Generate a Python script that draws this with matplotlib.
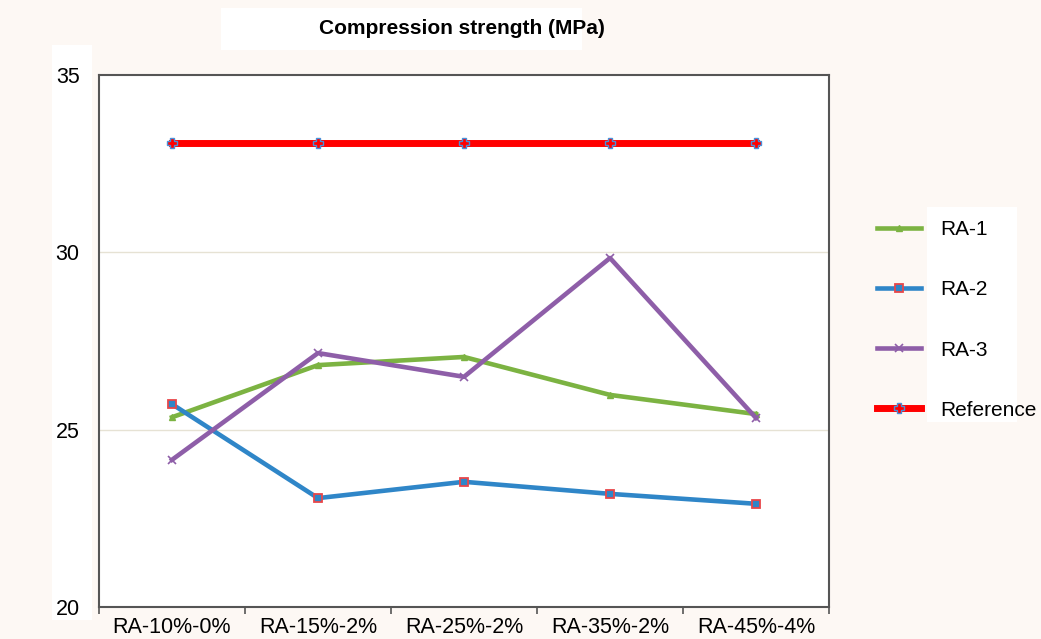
import matplotlib
matplotlib.use("Agg")
import matplotlib.pyplot as plt
from matplotlib.patches import Rectangle

categories = ["RA-10%-0%", "RA-15%-2%", "RA-25%-2%", "RA-35%-2%", "RA-45%-4%"]
ra1 = [25.35, 26.82, 27.05, 25.98, 25.44]
ra2 = [25.72, 23.07, 23.53, 23.19, 22.91]
ra3 = [24.15, 27.16, 26.49, 29.84, 25.33]
reference = [33.08, 33.08, 33.08, 33.08, 33.08]
y_ticks = [20, 25, 30, 35]

plt.rcParams["font.family"] = ["Liberation Sans", "DejaVu Sans"]

fig = plt.figure(figsize=(10.41, 6.39), dpi=100)
fig.patch.set_facecolor("#fdf8f4")
W, H = 1041, 639
ax = fig.add_axes([99 / W, 1 - 607 / H, 730 / W, 532 / H])
ax.set_facecolor("white")


def white_panel(x0, y0, x1, y1):
    fig.patches.append(Rectangle((x0 / W, 1 - y1 / H), (x1 - x0) / W, (y1 - y0) / H,
                                 transform=fig.transFigure, facecolor="white",
                                 edgecolor="none", zorder=-5))


# white panels behind the title, the y tick labels and the legend texts
white_panel(221, 8, 582, 50)
white_panel(52, 45, 92, 620)
white_panel(927, 207, 1017, 422)

x = list(range(len(categories)))
ax.plot(x, ra1, color="#7cb342", lw=3.3, marker="^", ms=5,
        markerfacecolor="#7cb342", markeredgecolor="#7cb342", label="RA-1", zorder=3)
ax.plot(x, ra2, color="#2f86c8", lw=3.3, marker="s", ms=6,
        markerfacecolor="#2f86c8", markeredgecolor="#e8474a", markeredgewidth=1.3,
        label="RA-2", zorder=3)
ax.plot(x, ra3, color="#8e5ea8", lw=3.3, marker="x", ms=6,
        markeredgecolor="#8e5ea8", markeredgewidth=1.2, label="RA-3", zorder=3)
ax.plot(x, reference, color="#ff0000", lw=5.0, marker="P", ms=7,
        markerfacecolor="#ff0000", markeredgecolor="#4a90d9", markeredgewidth=1.0,
        label="Reference", zorder=3)

ax.set_xlim(-0.5, len(categories) - 0.5)
ax.set_ylim(20, 35)
ax.set_yticks(y_ticks)
ax.set_yticklabels([str(v) for v in y_ticks], fontsize=15.5)
ax.tick_params(axis="y", length=0, pad=14)
for v in [25, 30]:
    ax.axhline(v, color="#e6e2d4", lw=1.0, zorder=1)

ax.set_xticks(x)
ax.set_xticklabels(categories, fontsize=15.5)
ax.set_xticks([i - 0.5 for i in range(len(categories) + 1)], minor=True)
ax.tick_params(axis="x", which="major", length=0, pad=7)
ax.tick_params(axis="x", which="minor", length=5, width=1.2, color="#555555",
               direction="out")

for s in ax.spines.values():
    s.set_color("#555555")
    s.set_linewidth(1.5)

fig.text(462 / W, 1 - 28 / H, "Compression strength (MPa)", fontsize=15,
         fontweight="bold", ha="center", va="center")

leg = ax.legend(loc="center left", frameon=False, fontsize=15, labelspacing=1.97,
                handlelength=2.1, handletextpad=0.95, borderpad=0, borderaxespad=0)
leg.set_bbox_to_anchor((877 / W, 1 - 320 / H), transform=fig.transFigure)

fig.savefig("out.png", dpi=100, facecolor=fig.get_facecolor())
